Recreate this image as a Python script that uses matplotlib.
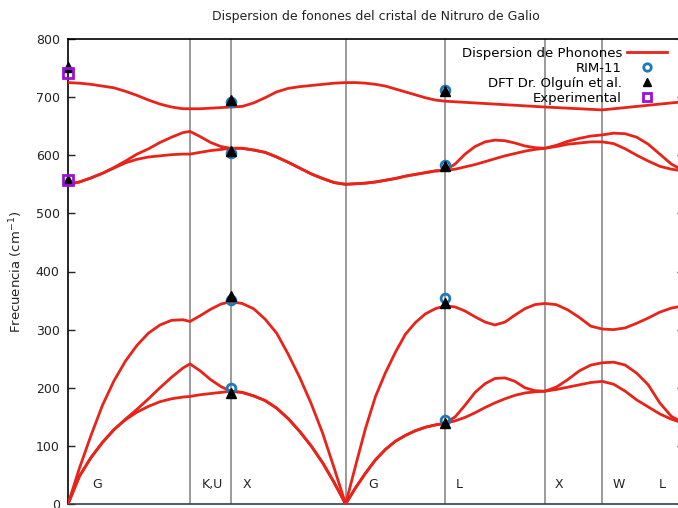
import numpy as np
import matplotlib
matplotlib.use("Agg")
import matplotlib.pyplot as plt

# high-symmetry points along the path (units of 2*pi/a)
k_sym = [0.0, 1.0607, 1.4142, 2.4142, 3.2802, 4.1463, 4.6463, 5.3534]
sym_labels = ["G", "K,U", "X", "G", "L", "X", "W", "L"]
label_k = [0.25, 1.252, 1.557, 2.652, 3.40, 4.27, 4.79, 5.165]

k_path = [0, 0.1, 0.2, 0.3, 0.4, 0.5, 0.6, 0.7, 0.8, 0.9, 1.0, 1.0607,           # G-K
          1.15, 1.24, 1.33, 1.4142,                                              # K-X
          1.5142, 1.6142, 1.7142, 1.8142, 1.9142, 2.0142, 2.1142, 2.2142, 2.3142, 2.4142,  # X-G
          2.501, 2.587, 2.674, 2.761, 2.847, 2.934, 3.020, 3.107, 3.194, 3.2802,  # G-L
          3.367, 3.453, 3.540, 3.627, 3.713, 3.800, 3.887, 3.973, 4.060, 4.1463,  # L-X
          4.246, 4.346, 4.446, 4.546, 4.6463,                                    # X-W
          4.746, 4.846, 4.946, 5.046, 5.146, 5.246, 5.3534]                      # W-L

# frequencies (cm^-1) of the six branches at k_path
la = [0, 62, 118, 170, 212, 246, 273, 294, 308, 316, 317, 314,
      324, 335, 344, 348,
      345, 336, 318, 294, 258, 218, 173, 122, 62, 0,
      66, 130, 185, 226, 261, 292, 312, 327, 336, 341,
      339, 332, 322, 313, 308, 313, 325, 336, 343, 345,
      343, 334, 321, 306, 301,
      300, 303, 311, 320, 330, 337, 341]
ta_up = [0, 48, 80, 106, 128, 146, 163, 181, 200, 218, 234, 241,
         229, 214, 202, 194,
         192, 186, 178, 165, 147, 125, 100, 71, 37, 0,
         28, 53, 76, 94, 108, 118, 126, 132, 136, 139,
         150, 170, 192, 207, 216, 217, 211, 200, 195, 194,
         201, 214, 229, 239, 243,
         244, 239, 225, 205, 174, 151, 139]
ta_lo = [0, 48, 80, 106, 128, 145, 158, 168, 176, 181, 184, 185,
         188, 190, 192, 194,
         192, 186, 178, 165, 147, 125, 100, 71, 37, 0,
         28, 53, 76, 94, 108, 118, 126, 132, 136, 139,
         143, 149, 157, 166, 174, 181, 187, 191, 193, 194,
         197, 201, 205, 209, 211,
         206, 194, 179, 167, 155, 146, 139]
to_up = [550, 554, 561, 569, 579, 590, 602, 611, 622, 631, 639, 641,
         632, 622, 615, 612,
         612, 609, 605, 597, 588, 578, 568, 560, 553, 550,
         551, 552, 554, 557, 560, 564, 567, 570, 573, 574,
         585, 602, 615, 623, 626, 625, 621, 616, 613, 612,
         617, 624, 629, 633, 635,
         638, 637, 631, 619, 602, 585, 573]
to_lo = [550, 554, 561, 569, 578, 587, 593, 597, 599, 601, 602, 602,
         605, 608, 610, 612,
         612, 609, 605, 597, 588, 578, 568, 560, 553, 550,
         551, 552, 554, 557, 560, 564, 567, 570, 573, 574,
         576, 580, 584, 589, 594, 599, 603, 607, 610, 612,
         615, 619, 621, 623, 623,
         620, 611, 600, 590, 581, 576, 573]
lo = [725, 724, 722, 719, 716, 710, 703, 695, 688, 683, 680, 680,
      680, 681, 682, 683,
      684, 690, 699, 709, 715, 718, 720, 722, 724, 725,
      725, 724, 722, 719, 714, 709, 704, 699, 695, 693,
      692, 691, 690, 689, 688, 687, 686, 685, 684, 683,
      682, 681, 680, 679, 678,
      680, 682, 684, 686, 688, 690, 692]

bands = [la, ta_up, ta_lo, to_up, to_lo, lo]

# comparison points
rim_k = [1.4142, 1.4142, 1.4142, 1.4142, 3.2802, 3.2802, 3.2802, 3.2802]
rim_f = [692, 604, 351, 200, 713, 584, 355, 144]
dft_k = [0, 0, 1.4142, 1.4142, 1.4142, 1.4142, 3.2802, 3.2802, 3.2802, 3.2802]
dft_f = [752, 557, 695, 608, 357, 191, 711, 581, 346, 140]
exp_k = [0, 0]
exp_f = [742, 557]

red = "#e8241a"

fig = plt.figure(figsize=(6.78, 5.08), dpi=100)
ax = fig.add_axes([68 / 678, 4 / 508, 615.6 / 678, 465 / 508])

for xk in k_sym[1:]:
    ax.axvline(xk, color="#808080", lw=1.1, zorder=1)

for i, ff in enumerate(bands):
    ax.plot(k_path, ff, color=red, lw=2.0, solid_joinstyle="round", zorder=3,
            label="Dispersion de Phonones" if i == 0 else None)

ax.plot(rim_k, rim_f, "o", ls="none", mfc="none", mec="#1f78b8", mew=2.0, ms=6.3,
        zorder=4, label="RIM-11", clip_on=False)
ax.plot(dft_k, dft_f, "^", ls="none", color="black", ms=6.5, zorder=5,
        label="DFT Dr. Olguín et al.", clip_on=False)
ax.plot(exp_k, exp_f, "s", ls="none", mfc="none", mec="#9a12d6", mew=2.0, ms=6.5,
        zorder=6, label="Experimental", clip_on=False)

for lab, xk in zip(sym_labels, label_k):
    ax.text(xk, 33, lab, ha="center", va="center", fontsize=9, color="#222222")

ax.set_xlim(0, 5.3534)
ax.set_ylim(0, 800)
ax.set_yticks(np.arange(0, 801, 100))
ax.set_xticks([])
ax.tick_params(axis="y", direction="in", length=5, width=1, labelsize=9,
               right=True, pad=6, colors="#222222")
for s in ["left", "top", "right"]:
    ax.spines[s].set_color("black")
    ax.spines[s].set_linewidth(1.2)
ax.spines["bottom"].set_color("#34404c")
ax.spines["bottom"].set_linewidth(1.2)

ax.set_ylabel("Frecuencia (cm$^{-1}$)", fontsize=9.5, labelpad=8, color="#222222")
ax.set_title("Dispersion de fonones del cristal de Nitruro de Galio",
             fontsize=9, pad=14, color="#222222")

ax.legend(loc="upper right", bbox_to_anchor=(0.973, 0.983), frameon=False,
          markerfirst=False, fontsize=9.5, handlelength=3.0, handletextpad=0.4,
          labelspacing=0.15, borderpad=0, borderaxespad=0, markerscale=0.85)

fig.savefig("out.png", dpi=100)
